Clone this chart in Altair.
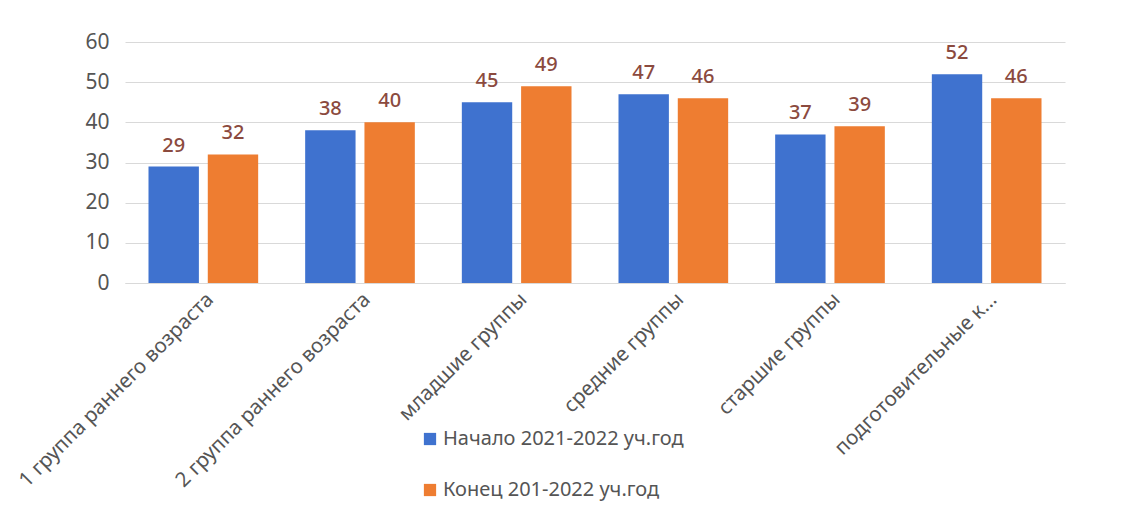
import altair as alt
import pandas as pd

categories = ["1 группа раннего возраста", "2 группа раннего возраста", "младшие группы",
              "средние группы", "старшие группы", "подготовительные к..."]
series = ["Начало 2021-2022 уч.год", "Конец 201-2022 уч.год"]
start_values = [29, 38, 45, 47, 37, 52]
end_values = [32, 40, 49, 46, 39, 46]

rows = []
for c, a, b in zip(categories, start_values, end_values):
    rows.append({"cat": c, "series": series[0], "value": a})
    rows.append({"cat": c, "series": series[1], "value": b})
df = pd.DataFrame(rows)

FONT = "Noto Sans"

x = alt.X("cat:N", sort=categories, title=None,
          scale=alt.Scale(paddingInner=0.3, paddingOuter=0.15),
          axis=alt.Axis(labelAngle=-45, labelFontSize=20.5, labelColor="#555555",
                        labelFont=FONT, domain=True, domainColor="#d9d9d9",
                        ticks=False, grid=False, labelPadding=6, labelLimit=400))
xo = alt.XOffset("series:N", sort=series, scale=alt.Scale(paddingInner=0.15))
y = alt.Y("value:Q", title=None,
          scale=alt.Scale(domain=[0, 60]),
          axis=alt.Axis(values=[0, 10, 20, 30, 40, 50, 60], labelFontSize=21,
                        labelColor="#555555", labelFont=FONT, domain=False,
                        ticks=False, labelPadding=16, gridColor="#d9d9d9"))

bars = alt.Chart(df).mark_bar().encode(
    x=x, xOffset=xo, y=y,
    color=alt.Color("series:N", sort=series,
                    scale=alt.Scale(domain=series, range=["#3f72cf", "#ee7d31"]),
                    legend=alt.Legend(title=None, orient="none", legendX=295, legendY=387,
                                      direction="vertical", symbolType="square",
                                      symbolSize=150, labelFontSize=20, labelFont=FONT,
                                      labelColor="#555555", rowPadding=31, labelLimit=500,
                                      symbolStrokeWidth=0, labelOffset=3)),
)

labels = alt.Chart(df).mark_text(baseline="bottom", dy=-11, fontSize=20, font=FONT,
                                 fontWeight=500, color="#8b4a3e").encode(
    x=alt.X("cat:N", sort=categories), xOffset=xo, y="value:Q",
    text="value:Q",
)

chart = alt.layer(bars, labels).properties(
    width=940, height=241,
    autosize=alt.AutoSizeParams(type="none"),
    padding={"left": 117, "top": 34, "right": 75, "bottom": 220},
).configure(background="white").configure_view(strokeWidth=0, stroke="transparent")

chart.save("out.html", embed_options={"renderer": "svg", "actions": False})
